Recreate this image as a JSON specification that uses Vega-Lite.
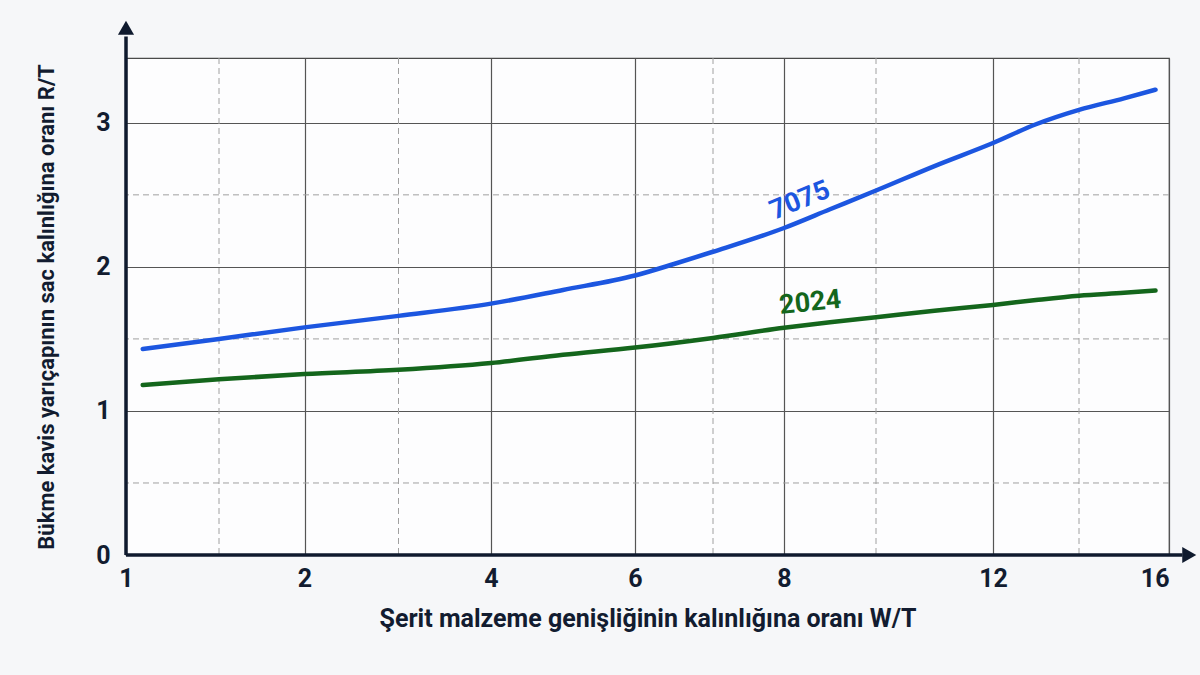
{
  "$schema": "https://vega.github.io/schema/vega-lite/v6.json",
  "description": "Bükme kavis yarıçapı / sac kalınlığı oranı, 7075 ve 2024 alaşımları",
  "width": 1043,
  "height": 497,
  "autosize": {"type": "none"},
  "padding": {"left": 126, "top": 58, "right": 31, "bottom": 120},
  "background": "#f6f7f9",
  "config": {
    "font": "Roboto",
    "view": {"fill": "#fdfdfe", "stroke": "#4a4a4a", "strokeWidth": 1.2}
  },
  "datasets": {
    "curves": [
      {"series": "7075", "w": 1.09, "r": 1.43},
      {"series": "7075", "w": 1.5, "r": 1.5},
      {"series": "7075", "w": 2, "r": 1.58},
      {"series": "7075", "w": 3, "r": 1.66},
      {"series": "7075", "w": 4, "r": 1.745},
      {"series": "7075", "w": 5, "r": 1.84},
      {"series": "7075", "w": 6, "r": 1.94},
      {"series": "7075", "w": 6.5, "r": 2.02},
      {"series": "7075", "w": 7, "r": 2.105},
      {"series": "7075", "w": 8, "r": 2.27},
      {"series": "7075", "w": 9, "r": 2.4},
      {"series": "7075", "w": 10, "r": 2.53},
      {"series": "7075", "w": 11, "r": 2.7},
      {"series": "7075", "w": 12, "r": 2.86},
      {"series": "7075", "w": 13, "r": 2.99},
      {"series": "7075", "w": 14, "r": 3.09},
      {"series": "7075", "w": 15, "r": 3.17},
      {"series": "7075", "w": 15.7, "r": 3.23},
      {"series": "2024", "w": 1.09, "r": 1.18},
      {"series": "2024", "w": 1.5, "r": 1.22},
      {"series": "2024", "w": 2, "r": 1.256},
      {"series": "2024", "w": 3, "r": 1.286},
      {"series": "2024", "w": 4, "r": 1.333},
      {"series": "2024", "w": 5, "r": 1.39},
      {"series": "2024", "w": 6, "r": 1.44},
      {"series": "2024", "w": 7, "r": 1.507},
      {"series": "2024", "w": 8, "r": 1.577},
      {"series": "2024", "w": 9, "r": 1.615},
      {"series": "2024", "w": 10, "r": 1.65},
      {"series": "2024", "w": 11, "r": 1.695},
      {"series": "2024", "w": 12, "r": 1.736},
      {"series": "2024", "w": 13, "r": 1.77},
      {"series": "2024", "w": 14, "r": 1.8},
      {"series": "2024", "w": 15, "r": 1.82},
      {"series": "2024", "w": 15.7, "r": 1.836}
    ],
    "xminor": [{"w": 1.5}, {"w": 3}, {"w": 7}, {"w": 10}, {"w": 14}],
    "yminor": [{"r": 0.5}, {"r": 1.5}, {"r": 2.5}],
    "axislines": [
      {"part": "x", "w": 1, "r": 0},
      {"part": "x", "w": 16.3, "r": 0},
      {"part": "y", "w": 1, "r": 0},
      {"part": "y", "w": 1, "r": 3.6}
    ],
    "arrows": [
      {"part": "x", "w": 16.45, "r": 0},
      {"part": "y", "w": 1, "r": 3.66}
    ],
    "labels": [
      {"series": "7075", "w": 8.35, "r": 2.46},
      {"series": "2024", "w": 8.57, "r": 1.75}
    ]
  },
  "layer": [
    {
      "data": {"name": "xminor"},
      "mark": {"type": "rule", "color": "#a0a0a0", "strokeWidth": 1, "strokeDash": [6, 4]},
      "encoding": {
        "x": {
          "field": "w",
          "type": "quantitative",
          "scale": {
            "domain": [1, 1.5, 2, 3, 4, 6, 7, 8, 10, 12, 14, 16],
            "range": [0, 93, 178.5, 272.5, 365, 509, 587, 658, 750, 867, 953, 1043],
            "nice": false,
            "zero": false
          },
          "axis": {
            "values": [1, 2, 4, 6, 8, 12, 16],
            "format": "d",
            "grid": true,
            "gridColor": "#555555",
            "gridWidth": 1.2,
            "domain": false,
            "ticks": false,
            "labelFontSize": 25,
            "labelFontWeight": "bold",
            "labelColor": "#121c30",
            "labelPadding": 11,
            "labelAlign": {"condition": {"test": "datum.value == 16", "value": "right"}, "value": "center"},
            "title": "Şerit malzeme genişliğinin kalınlığına oranı W/T",
            "titleFontSize": 25,
            "titleFontWeight": "bold",
            "titleColor": "#121c30",
            "titlePadding": 15
          }
        }
      }
    },
    {
      "data": {"name": "yminor"},
      "mark": {"type": "rule", "color": "#a0a0a0", "strokeWidth": 1, "strokeDash": [6, 4]},
      "encoding": {
        "y": {
          "field": "r",
          "type": "quantitative",
          "scale": {"domain": [0, 3.45], "nice": false},
          "axis": {
            "values": [0, 1, 2, 3],
            "format": "d",
            "grid": true,
            "gridColor": "#555555",
            "gridWidth": 1.2,
            "domain": false,
            "ticks": false,
            "labelFontSize": 25,
            "labelFontWeight": "bold",
            "labelColor": "#121c30",
            "labelPadding": 16,
            "title": "Bükme kavis yarıçapının sac kalınlığına oranı R/T",
            "titleFontSize": 22,
            "titleFontWeight": "bold",
            "titleColor": "#121c30",
            "titlePadding": 37
          }
        }
      }
    },
    {
      "data": {"name": "curves"},
      "mark": {"type": "line", "strokeWidth": 4.5, "interpolate": "monotone", "strokeCap": "round"},
      "encoding": {
        "x": {"field": "w", "type": "quantitative"},
        "y": {"field": "r", "type": "quantitative"},
        "color": {
          "field": "series",
          "type": "nominal",
          "scale": {"domain": ["7075", "2024"], "range": ["#1c56e0", "#14661c"]},
          "legend": null
        }
      }
    },
    {
      "data": {"name": "axislines"},
      "mark": {"type": "line", "color": "#0f1a2e", "strokeWidth": 3.5},
      "encoding": {
        "x": {"field": "w", "type": "quantitative"},
        "y": {"field": "r", "type": "quantitative"},
        "detail": {"field": "part", "type": "nominal"}
      }
    },
    {
      "data": {"name": "arrows"},
      "mark": {"type": "point", "filled": true, "color": "#0f1a2e", "opacity": 1, "size": 260},
      "encoding": {
        "x": {"field": "w", "type": "quantitative"},
        "y": {"field": "r", "type": "quantitative"},
        "shape": {
          "field": "part",
          "type": "nominal",
          "scale": {"domain": ["x", "y"], "range": ["triangle-right", "triangle-up"]},
          "legend": null
        }
      }
    },
    {
      "data": {"name": "labels"},
      "transform": [{"filter": "datum.series == '7075'"}],
      "mark": {"type": "text", "fontSize": 27, "fontWeight": "bold", "angle": 338},
      "encoding": {
        "x": {"field": "w", "type": "quantitative"},
        "y": {"field": "r", "type": "quantitative"},
        "text": {"field": "series"},
        "color": {"field": "series", "type": "nominal", "legend": null}
      }
    },
    {
      "data": {"name": "labels"},
      "transform": [{"filter": "datum.series == '2024'"}],
      "mark": {"type": "text", "fontSize": 27, "fontWeight": "bold", "angle": 354},
      "encoding": {
        "x": {"field": "w", "type": "quantitative"},
        "y": {"field": "r", "type": "quantitative"},
        "text": {"field": "series"},
        "color": {"field": "series", "type": "nominal", "legend": null}
      }
    }
  ]
}
